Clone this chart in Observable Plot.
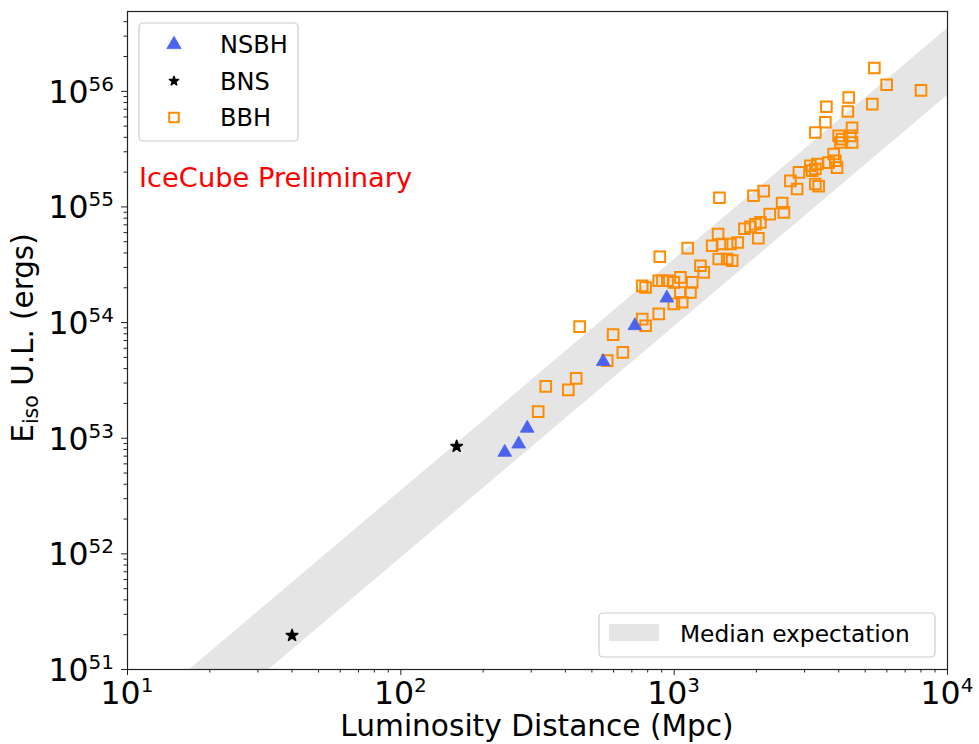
<!DOCTYPE html>
<html><head><meta charset="utf-8">
<script src="https://cdn.jsdelivr.net/npm/d3@7"></script>
<script src="https://cdn.jsdelivr.net/npm/@observablehq/plot@0.6"></script>
<style>body{margin:0;background:#fff;} svg{display:block;}</style>
</head><body><div id="chart"></div>
<script>
// ---- data ----
const bandDist = [10, 10000];
const bandLow  = [9.2e49, 9.2e55];
const bandHigh = [3.5e50, 3.5e56];

const nsbhDist = [240, 270, 290, 550, 718, 940];
const nsbhE    = [7.55e52, 8.9e52, 1.22e53, 4.6e53, 9.4e53, 1.63e54];

const bnsDist = [40, 160];
const bnsE    = [1.97e51, 8.5e52];

const bbhDist = [318, 339, 410, 438, 451, 569, 598, 649, 764, 786,
  878, 997, 1070, 764, 786, 878, 906, 945, 997, 1054,
  1164, 1147, 1054, 886, 1121, 1248, 1283, 1448, 1377, 1498,
  1607, 1708, 1456, 1563, 1630, 1807, 1901, 1983, 2068, 2033,
  1464, 1950, 2126, 2237, 2483, 2521, 2662, 2817, 2860, 3150,
  3285, 3342, 3196, 3285, 3379, 3832, 3888, 3944, 3675, 3997,
  4114, 4411, 4475, 4055, 4475, 3574, 3285, 3605, 4320, 4349,
  5309, 5400, 5989, 8000];
const bbhE = [1.70e53, 2.81e53, 2.62e53, 3.29e53, 9.22e53, 4.69e53, 7.86e53, 5.53e53, 1.07e54, 9.40e53,
  1.19e54, 1.45e54, 1.50e54, 2.08e54, 2.01e54, 2.30e54, 2.30e54, 2.30e54, 2.23e54, 2.46e54,
  2.23e54, 1.82e54, 1.82e54, 3.71e54, 4.41e54, 3.10e54, 2.72e54, 5.83e54, 4.62e54, 4.78e54,
  4.78e54, 4.93e54, 3.55e54, 3.55e54, 3.43e54, 6.48e54, 6.74e54, 7.09e54, 7.35e54, 5.36e54,
  1.20e55, 1.25e55, 1.37e55, 8.68e54, 1.08e55, 8.97e54, 1.68e55, 1.43e55, 1.99e55, 2.27e55,
  2.13e55, 2.35e55, 2.06e55, 1.58e55, 1.51e55, 2.87e55, 2.51e55, 2.19e55, 2.42e55, 4.12e55,
  3.86e55, 4.12e55, 3.61e55, 3.61e55, 4.84e55, 5.40e55, 4.40e55, 7.35e55, 6.69e55, 8.84e55,
  7.75e55, 1.59e56, 1.14e56, 1.02e56];

const xMajor = [10, 100, 1000, 10000];
const yMajor = [1e51, 1e52, 1e53, 1e54, 1e55, 1e56];
const seriesNames = ["NSBH", "BNS", "BBH"];
const bandName = "Median expectation";
const note = "IceCube Preliminary";
const xTitle = "Luminosity Distance (Mpc)";

// ---- build tables ----
const band = bandDist.map((d, i) => ({d, lo: bandLow[i], hi: bandHigh[i]}));
const nsbh = nsbhDist.map((d, i) => ({d, e: nsbhE[i]}));
const bns = bnsDist.map((d, i) => ({d, e: bnsE[i]}));
const bbh = bbhDist.map((d, i) => ({d, e: bbhE[i]}));
const minor = (majors, max) => majors.flatMap(m => [2,3,4,5,6,7,8,9].map(k => k * m)).filter(v => v <= max);
const xMinor = minor(xMajor, 1e4);
const yMinor = minor(yMajor, 4.9e56);

const FONT = "'DejaVu Sans', sans-serif";
const ORANGE = "#ff8c00", BLUE = "#4a63f0";

const chart = Plot.plot({
  width: 979, height: 744,
  marginLeft: 127, marginRight: 32, marginTop: 11, marginBottom: 75,
  style: {fontFamily: FONT, background: "white", overflow: "visible"},
  x: {type: "log", domain: [10, 1e4]},
  y: {type: "log", domain: [1e51, 4.9e56]},
  marks: [
    Plot.areaY(band, {x: "d", y1: "lo", y2: "hi", fill: "#e5e5e5", clip: true}),
    Plot.axisX(xMinor, {tickSize: 3.5, tickFormat: () => "", label: null, stroke: "#222"}),
    Plot.axisX(xMajor, {tickSize: 6, tickFormat: () => "", label: null, stroke: "#222"}),
    Plot.axisY(yMinor, {tickSize: 3.5, tickFormat: () => "", label: null, stroke: "#222"}),
    Plot.axisY(yMajor, {tickSize: 6, tickFormat: () => "", label: null, stroke: "#222"}),
    Plot.dot(bbh, {x: "d", y: "e", symbol: "square", r: 6, stroke: ORANGE, strokeWidth: 2, fill: "none"}),
    Plot.dot(nsbh, {x: "d", y: "e", symbol: "triangle", r: 5.1, fill: BLUE, stroke: BLUE, strokeWidth: 0.8}),
    Plot.dot(bns, {x: "d", y: "e", symbol: "star", r: 3.6, fill: "black", stroke: "black", strokeWidth: 1.6, strokeLinejoin: "round"}),
    Plot.frame({stroke: "#222", strokeWidth: 1.2})
  ]
});

const svg = d3.select(chart);
const sx = chart.scale("x"), sy = chart.scale("y");
const TICK = 31.5, EXP = 20;

function powLabel(g, v) {
  const e = Math.round(Math.log10(v));
  g.append("tspan").text("10");
  g.append("tspan").attr("dy", -12).attr("font-size", EXP).text(String(e));
}
xMajor.forEach(v => {
  const t = svg.append("text").attr("x", sx.apply(v)).attr("y", 704)
    .attr("text-anchor", "middle").attr("font-size", TICK).attr("font-family", FONT).attr("fill", "black");
  powLabel(t, v);
});
yMajor.forEach(v => {
  const t = svg.append("text").attr("x", 114).attr("y", sy.apply(v) + 12)
    .attr("text-anchor", "end").attr("font-size", TICK).attr("font-family", FONT).attr("fill", "black");
  powLabel(t, v);
});

// axis titles
svg.append("text").attr("x", 537).attr("y", 736).attr("text-anchor", "middle")
  .attr("font-size", 29.6).attr("font-family", FONT).attr("fill", "black").text(xTitle);
const yl = svg.append("text").attr("transform", "translate(33,338) rotate(-90)").attr("text-anchor", "middle")
  .attr("font-size", 29.4).attr("font-family", FONT).attr("fill", "black");
yl.append("tspan").text("E");
yl.append("tspan").attr("dy", 5).attr("font-size", 20.5).text("iso");
yl.append("tspan").attr("dy", -5).text(" U.L. (ergs)");

// annotation
svg.append("text").attr("x", 139).attr("y", 187).attr("text-anchor", "start").attr("font-size", 27.3)
  .attr("font-family", FONT).attr("fill", "red").text(note);

// legend (top left)
const lg = svg.append("g");
lg.append("rect").attr("x", 139).attr("y", 23).attr("width", 159).attr("height", 118).attr("rx", 4)
  .attr("fill", "white").attr("fill-opacity", 0.8).attr("stroke", "#cccccc").attr("stroke-width", 1.2);
const legItems = [
  {name: seriesNames[0], sym: d3.symbolTriangle, r: 5.3, fill: BLUE, stroke: BLUE, sw: 0.8, y: 44.5},
  {name: seriesNames[1], sym: d3.symbolStar, r: 2.9, fill: "black", stroke: "black", sw: 1.4, y: 81},
  {name: seriesNames[2], sym: d3.symbolSquare, r: 5.4, fill: "none", stroke: ORANGE, sw: 2, y: 117.5}
];
legItems.forEach(it => {
  lg.append("path").attr("transform", `translate(174,${it.y})`)
    .attr("d", d3.symbol(it.sym, Math.PI * it.r * it.r)())
    .attr("fill", it.fill).attr("stroke", it.stroke).attr("stroke-width", it.sw)
    .attr("stroke-linejoin", "round");
  lg.append("text").attr("x", 220).attr("y", it.y + 8.8).attr("text-anchor", "start").attr("font-size", 24)
    .attr("font-family", FONT).attr("fill", "black").text(it.name);
});

// legend (bottom right)
const lb = svg.append("g");
lb.append("rect").attr("x", 599).attr("y", 613).attr("width", 336).attr("height", 44).attr("rx", 4)
  .attr("fill", "white").attr("fill-opacity", 0.8).attr("stroke", "#cccccc").attr("stroke-width", 1.2);
lb.append("rect").attr("x", 609).attr("y", 624).attr("width", 50).attr("height", 17).attr("fill", "#e5e5e5");
lb.append("text").attr("x", 680).attr("y", 641.5).attr("text-anchor", "start").attr("font-size", 23.3)
  .attr("font-family", FONT).attr("fill", "black").text(bandName);

document.getElementById("chart").appendChild(chart);
</script>
</body></html>
